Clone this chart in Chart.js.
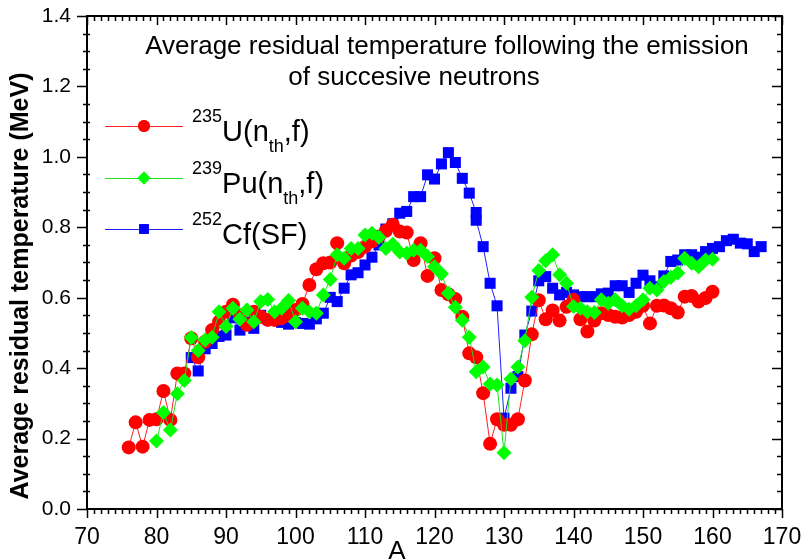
<!DOCTYPE html>
<html>
<head>
<meta charset="utf-8">
<script src="https://cdn.jsdelivr.net/npm/chart.js@4/dist/chart.umd.min.js"></script>
<style>
  html, body { margin: 0; padding: 0; background: #fff; }
  canvas { display: block; }
</style>
</head>
<body>
<canvas id="chart" width="803" height="559"></canvas>
<script>
// Mass number A and average residual temperature (MeV) for each fissioning system
const massU235 = [76,77,78,79,80,81,82,83,84,85,86,87,88,89,90,91,92,93,94,95,96,97,98,99,100,
  101,102,103,104,105,106,107,108,109,110,111,112,113,114,115,116,117,118,119,120,
  121,122,123,124,125,126,127,128,129,130,131,132,133,134,135,136,137,138,139,140,
  141,142,143,144,145,146,147,148,149,150,151,152,153,154,155,156,157,158,159,160];
const tempU235 = [0.175,0.246,0.177,0.253,0.255,0.335,0.253,0.385,0.385,0.485,0.431,0.475,0.508,0.532,0.560,0.580,0.550,0.523,0.560,0.546,0.537,0.537,0.542,0.550,0.565,
  0.582,0.636,0.681,0.698,0.700,0.755,0.698,0.720,0.730,0.745,0.760,0.774,0.790,0.807,0.788,0.785,0.707,0.755,0.662,0.712,
  0.622,0.610,0.596,0.546,0.442,0.431,0.329,0.185,0.255,0.239,0.239,0.255,0.365,0.496,0.593,0.539,0.564,0.535,0.574,0.594,
  0.539,0.504,0.535,0.556,0.551,0.546,0.544,0.551,0.560,0.577,0.527,0.577,0.578,0.570,0.558,0.603,0.605,0.589,0.599,0.617];

const massPu239 = [80,81,82,83,84,85,86,87,88,89,90,91,92,93,94,95,96,97,98,99,100,
  101,102,103,104,105,106,107,108,109,110,111,112,113,114,115,116,117,118,119,120,
  121,122,123,124,125,126,127,128,129,130,131,132,133,134,135,136,137,138,139,140,
  141,142,143,144,145,146,147,148,149,150,151,152,153,154,155,156,157,158,159,160];
const tempPu239 = [0.193,0.274,0.224,0.327,0.365,0.487,0.450,0.480,0.488,0.560,0.518,0.570,0.539,0.565,0.532,0.589,0.595,0.560,0.570,0.592,0.532,
  0.570,0.560,0.556,0.608,0.652,0.722,0.712,0.740,0.740,0.778,0.783,0.772,0.740,0.752,0.730,0.726,0.735,0.735,0.717,0.688,
  0.668,0.613,0.573,0.536,0.488,0.390,0.403,0.355,0.352,0.160,0.369,0.403,0.478,0.601,0.677,0.705,0.722,0.665,0.641,0.575,
  0.570,0.560,0.558,0.594,0.584,0.594,0.577,0.567,0.577,0.594,0.627,0.622,0.646,0.658,0.670,0.712,0.698,0.688,0.707,0.709];

const massCf252 = [85,86,87,88,89,90,91,92,93,94,95,96,97,98,99,100,
  101,102,103,104,105,106,107,108,109,110,111,112,113,114,115,116,117,118,119,120,
  121,122,123,124,125,126,126,127,128,129,130,131,132,133,134,135,136,137,138,139,140,
  141,142,143,144,145,146,147,148,149,150,151,152,153,154,155,156,157,158,159,160,
  161,162,163,164,165,166,167];
const tempCf252 = [0.430,0.392,0.455,0.470,0.490,0.494,0.543,0.508,0.530,0.513,0.550,0.540,0.550,0.530,0.525,0.529,
  0.527,0.525,0.540,0.556,0.601,0.589,0.627,0.665,0.671,0.693,0.715,0.750,0.795,0.810,0.840,0.845,0.887,0.887,0.949,0.937,
  0.980,1.012,0.984,0.939,0.897,0.842,0.820,0.745,0.641,0.577,0.258,0.343,0.376,0.494,0.562,0.648,0.660,0.627,0.608,0.615,0.608,
  0.603,0.603,0.603,0.611,0.613,0.634,0.634,0.615,0.641,0.664,0.648,0.632,0.662,0.703,0.707,0.722,0.722,0.715,0.731,0.740,
  0.745,0.762,0.766,0.755,0.753,0.731,0.745];

// Axis ranges and labelled ticks
const xTickValues = [70,80,90,100,110,120,130,140,150,160,170];
const yTickValues = [0.0,0.2,0.4,0.6,0.8,1.0,1.2,1.4];

const titleLines = ['Average residual temperature following the emission', 'of succesive neutrons'];
const legendEntries = [
  { sup: '235', main: 'U(n', sub: 'th', tail: ',f)' },
  { sup: '239', main: 'Pu(n', sub: 'th', tail: ',f)' },
  { sup: '252', main: 'Cf(SF)', sub: '', tail: '' }
];

const FONT = '"Liberation Sans", Arial, sans-serif';

function toPoints(xs, ys) { return xs.map((x, i) => ({ x: x, y: ys[i] })); }

const seriesStyle = [
  { color: '#ff0000', line: '#ff2020', pointStyle: 'circle', radius: 7 },
  { color: '#00ff00', line: '#20e020', pointStyle: 'rectRot', radius: 7.5 },
  { color: '#0000ff', line: '#2020ff', pointStyle: 'rect', radius: 7.8 }
];

// Frame, ticks, labels, titles and legend drawn on top of the plot
const framePlugin = {
  id: 'frame',
  afterDraw(chart) {
    const ctx = chart.ctx;
    const ca = chart.chartArea;
    const xs = chart.scales.x, ys = chart.scales.y;
    ctx.save();
    ctx.strokeStyle = '#000';
    ctx.lineWidth = 1.5;
    ctx.beginPath();
    for (let v = 70; v <= 170; v += 1) {
      const px = Math.round(xs.getPixelForValue(v)) + 0.5;
      const major = v % 10 === 0;
      ctx.moveTo(px, ca.bottom); ctx.lineTo(px, ca.bottom + (major ? 9 : 5));
      ctx.moveTo(px, ca.top); ctx.lineTo(px, ca.top + (major ? 9 : 5));
    }
    for (let k = 0; k <= 28; k++) {
      const v = k * 0.05;
      const py = Math.round(ys.getPixelForValue(v)) + 0.5;
      const major = k % 4 === 0;
      if (major) { ctx.moveTo(ca.left - 10, py); ctx.lineTo(ca.left, py); }
      else { ctx.moveTo(ca.left - 4, py); ctx.lineTo(ca.left + 3, py); }
      ctx.moveTo(ca.right, py); ctx.lineTo(ca.right - (major ? 10 : 5), py);
    }
    ctx.stroke();
    ctx.lineWidth = 2;
    ctx.strokeRect(ca.left, ca.top, ca.right - ca.left, ca.bottom - ca.top);

    ctx.fillStyle = '#000';
    ctx.font = '23px ' + FONT;
    ctx.textAlign = 'center';
    ctx.textBaseline = 'alphabetic';
    xTickValues.forEach(v => ctx.fillText(String(v), xs.getPixelForValue(v), ca.bottom + 35));
    ctx.font = '21px ' + FONT;
    ctx.textAlign = 'right';
    ctx.textBaseline = 'middle';
    yTickValues.forEach(v => ctx.fillText(v.toFixed(1), ca.left - 16, ys.getPixelForValue(v)));

    // axis titles
    ctx.font = '26px ' + FONT;
    ctx.textAlign = 'center';
    ctx.textBaseline = 'alphabetic';
    ctx.fillText('A', xs.getPixelForValue(114.6), ca.bottom + 50);
    ctx.save();
    ctx.translate(28, 286);
    ctx.rotate(-Math.PI / 2);
    ctx.font = 'bold 25px ' + FONT;
    ctx.fillText('Average residual temperature (MeV)', 0, 0);
    ctx.restore();

    // in-plot title
    ctx.font = '26px ' + FONT;
    ctx.fillText(titleLines[0], 447, 54);
    ctx.fillText(titleLines[1], 414, 85);

    // legend
    const rowY = [126, 178, 229];
    legendEntries.forEach((e, i) => {
      const st = seriesStyle[i];
      const y = rowY[i];
      ctx.strokeStyle = st.line;
      ctx.lineWidth = 1;
      ctx.beginPath();
      ctx.moveTo(105, y + 0.5); ctx.lineTo(183, y + 0.5);
      ctx.stroke();
      ctx.fillStyle = st.color;
      Chart.helpers.drawPoint(ctx, { pointStyle: st.pointStyle, radius: st.radius - 1, borderWidth: 0 }, 144, y);
      ctx.fill();
      ctx.fillStyle = '#000';
      ctx.textAlign = 'left';
      let x = 192;
      ctx.font = '18px ' + FONT;
      ctx.fillText(e.sup, x, y - 4);
      x += ctx.measureText(e.sup).width;
      ctx.font = '29px ' + FONT;
      ctx.fillText(e.main, x, y + 15);
      x += ctx.measureText(e.main).width;
      if (e.sub) {
        ctx.font = '18px ' + FONT;
        ctx.fillText(e.sub, x, y + 26);
        x += ctx.measureText(e.sub).width;
        ctx.font = '29px ' + FONT;
        ctx.fillText(e.tail, x, y + 15);
      }
    });
    ctx.restore();
  }
};

const datasets = [
  { label: 'U235', data: toPoints(massU235, tempU235), order: 2 },
  { label: 'Pu239', data: toPoints(massPu239, tempPu239), order: 1 },
  { label: 'Cf252', data: toPoints(massCf252, tempCf252), order: 3 }
].map((d, i) => Object.assign(d, {
  borderColor: seriesStyle[i].line,
  backgroundColor: seriesStyle[i].color,
  pointBackgroundColor: seriesStyle[i].color,
  pointBorderColor: seriesStyle[i].color,
  pointBorderWidth: 0,
  borderWidth: 1,
  pointStyle: seriesStyle[i].pointStyle,
  pointRadius: seriesStyle[i].radius,
  pointHoverRadius: seriesStyle[i].radius,
  tension: 0,
  fill: false
}));

new Chart(document.getElementById('chart'), {
  type: 'line',
  data: { datasets: datasets },
  options: {
    responsive: false,
    animation: false,
    events: [],
    layout: { padding: { left: 0, top: 16, right: 21, bottom: 0 } },
    plugins: { legend: { display: false }, tooltip: { enabled: false } },
    scales: {
      x: {
        type: 'linear', min: 70, max: 170,
        ticks: { display: false, stepSize: 10 },
        grid: { display: false }, border: { display: false },
        afterFit: s => { s.height = 50; }
      },
      y: {
        type: 'linear', min: 0, max: 1.4,
        ticks: { display: false, stepSize: 0.2 },
        grid: { display: false }, border: { display: false },
        afterFit: s => { s.width = 87; }
      }
    }
  },
  plugins: [framePlugin]
});
</script>
</body>
</html>
